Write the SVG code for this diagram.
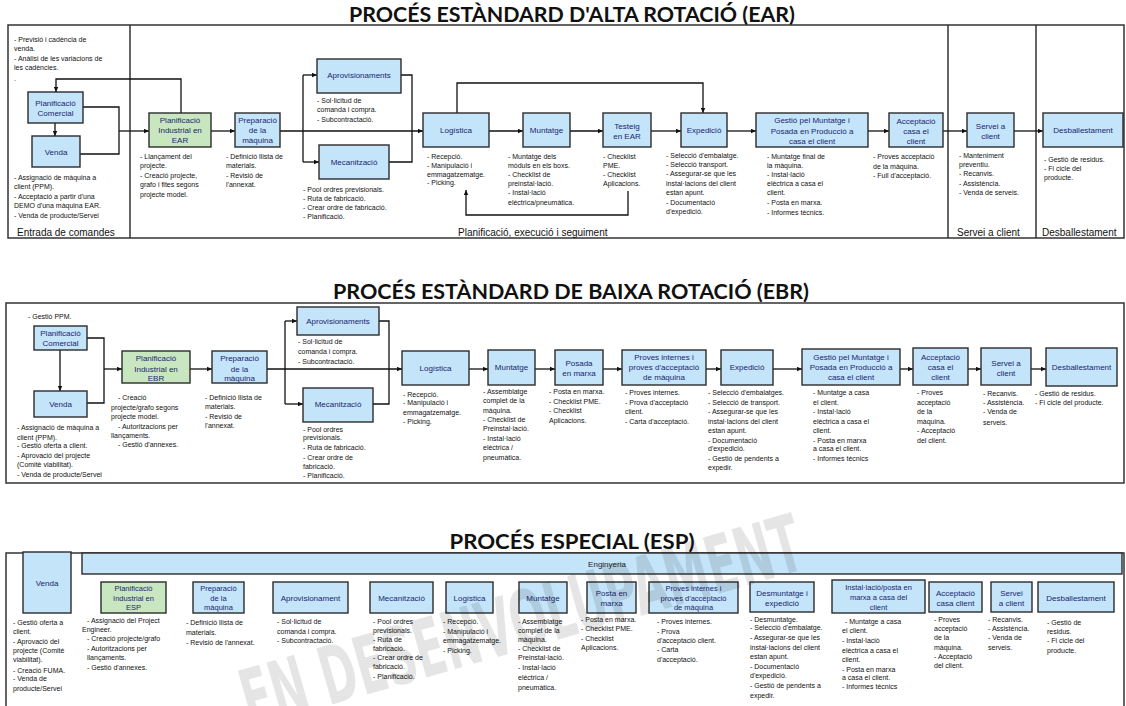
<svg xmlns="http://www.w3.org/2000/svg" width="1126" height="706" viewBox="0 0 1126 706">
<defs>
<marker id="ah" viewBox="0 0 10 10" refX="10" refY="5" markerWidth="6" markerHeight="5" orient="auto" markerUnits="userSpaceOnUse">
<path d="M0,0.5 L10,5 L0,9.5 z" fill="#111"/>
</marker>
<style>
.box{fill:#c3e4f9;stroke:#2b2b2b;stroke-width:1.4}
.green{fill:#c8e7c1}
.lbl{font-family:"Liberation Sans",Arial,sans-serif;font-size:8px;fill:#1c2470;text-anchor:middle}
.sm{font-size:7.5px}
.note{font-family:"Liberation Sans",Arial,sans-serif;font-size:7px;fill:#111}
.sec{font-family:"Liberation Sans",Arial,sans-serif;font-size:10px;fill:#111}
.title{font-family:Lato,"Liberation Sans",sans-serif;font-weight:bold;font-size:20px;fill:#111;text-anchor:middle}
.frame{fill:none;stroke:#333;stroke-width:1.5}
.conn{fill:none;stroke:#111;stroke-width:1.3}
.arr{marker-end:url(#ah)}
.wm{font-family:"DejaVu Sans",sans-serif;font-weight:bold;font-size:80px;fill:#000;fill-opacity:0.1}
</style>
</defs>
<rect width="1126" height="706" fill="#fff"/>

<!-- ===================== EAR ===================== -->
<g id="ear-frame">
<text class="title" x="572" y="22" textLength="446" lengthAdjust="spacingAndGlyphs">PROCÉS ESTÀNDARD D'ALTA ROTACIÓ (EAR)</text>
<rect class="frame" x="8" y="25" width="1116" height="213"/>
<line class="frame" x1="130" y1="25" x2="130" y2="238"/>
<line class="frame" x1="948" y1="25" x2="948" y2="238"/>
<line class="frame" x1="1036" y1="25" x2="1036" y2="238"/>
<text class="sec" x="17" y="236">Entrada de comandes</text>
<text class="sec" x="458" y="236">Planificació, execució i seguiment</text>
<text class="sec" x="957" y="236">Servei a client</text>
<text class="sec" x="1042" y="236">Desballestament</text>
<text class="note"><tspan x="14" y="42">- Previsió i cadència de</tspan><tspan x="14" y="51">venda.</tspan><tspan x="14" y="61">- Anàlisi de les variacions de</tspan><tspan x="14" y="70">les cadències.</tspan><tspan x="14" y="81">.</tspan></text>
</g>

<g id="ear-connectors">
<path class="conn arr" d="M55,123 V136"/>
<path class="conn arr" d="M181,113 V79 H56 V92"/>
<path class="conn" d="M83,107 H119 V154 H80"/>
<path class="conn arr" d="M119,131 H149"/>
<path class="conn arr" d="M211,131 H235"/>
<path class="conn arr" d="M280,131 H423"/>
<path class="conn" d="M303,75 V162"/>
<path class="conn arr" d="M303,75 H317"/>
<path class="conn arr" d="M303,162 H319"/>
<path class="conn" d="M401,75 H412 V162 H389"/>
<path class="conn arr" d="M457,113 V83 H703 V113"/>
<path class="conn arr" d="M489,131 H523"/>
<path class="conn arr" d="M570,131 H603"/>
<path class="conn arr" d="M651,131 H681"/>
<path class="conn arr" d="M727,131 H756"/>
<path class="conn arr" d="M868,131 H889"/>
<path class="conn arr" d="M943,131 H967"/>
<path class="conn arr" d="M1014,131 H1043"/>
<path class="conn arr" d="M628,191 V215 H466 V190"/>
</g>

<g id="ear-pc">
<rect class="box" x="28" y="92" width="55" height="31"/>
<text class="lbl"><tspan x="55.5" y="106">Planificació</tspan><tspan x="55.5" y="116">Comercial</tspan></text>
</g>
<g id="ear-venda">
<rect class="box" x="32" y="136" width="48" height="31"/>
<text class="lbl" x="56" y="155">Venda</text>
<text class="note"><tspan x="14" y="180">- Assignació de màquina a</tspan><tspan x="14" y="189">client (PPM).</tspan><tspan x="14" y="199">- Acceptació a partir d'una</tspan><tspan x="14" y="208">DEMO d'una màquina EAR.</tspan><tspan x="14" y="218">- Venda de producte/Servei</tspan></text>
</g>
<g id="ear-pi">
<rect class="box green" x="149" y="113" width="62" height="34"/>
<text class="lbl"><tspan x="180" y="123">Planificació</tspan><tspan x="180" y="133">Industrial en</tspan><tspan x="180" y="143">EAR</tspan></text>
<text class="note"><tspan x="140" y="159">- Llançament del</tspan><tspan x="140" y="168">projecte.</tspan><tspan x="140" y="178">- Creació projecte,</tspan><tspan x="140" y="187">grafo i fites segons</tspan><tspan x="140" y="197">projecte model.</tspan></text>
</g>
<g id="ear-prep">
<rect class="box" x="235" y="113" width="45" height="34"/>
<text class="lbl"><tspan x="257.5" y="123">Preparació</tspan><tspan x="257.5" y="133">de la</tspan><tspan x="257.5" y="143">màquina</tspan></text>
<text class="note"><tspan x="226" y="159">- Definició llista de</tspan><tspan x="226" y="168">materials.</tspan><tspan x="226" y="178">- Revisió de</tspan><tspan x="226" y="187">l'annexat.</tspan></text>
</g>
<g id="ear-aprov">
<rect class="box" x="317" y="59" width="84" height="34"/>
<text class="lbl" x="359" y="78">Aprovisionaments</text>
<text class="note"><tspan x="317" y="103">- Sol·licitud de</tspan><tspan x="317" y="112">comanda i compra.</tspan><tspan x="317" y="122">- Subcontractació.</tspan></text>
</g>
<g id="ear-mec">
<rect class="box" x="319" y="145" width="70" height="34"/>
<text class="lbl" x="354" y="165">Mecanització</text>
<text class="note"><tspan x="303" y="192">- Pool ordres previsionals.</tspan><tspan x="303" y="201">- Ruta de fabricació.</tspan><tspan x="303" y="210">- Crear ordre de fabricació.</tspan><tspan x="303" y="219">- Planificació.</tspan></text>
</g>
<g id="ear-log">
<rect class="box" x="423" y="113" width="66" height="34"/>
<text class="lbl" x="456" y="133">Logística</text>
<text class="note"><tspan x="427" y="159">- Recepció.</tspan><tspan x="427" y="168">- Manipulació i</tspan><tspan x="427" y="177">emmagatzematge.</tspan><tspan x="427" y="185">- Picking.</tspan></text>
</g>
<g id="ear-munt">
<rect class="box" x="523" y="113" width="47" height="34"/>
<text class="lbl" x="546.5" y="133">Muntatge</text>
<text class="note"><tspan x="508" y="159">- Muntatge dels</tspan><tspan x="508" y="168">mòduls en els boxs.</tspan><tspan x="508" y="177">- Checklist de</tspan><tspan x="508" y="186">preinstal·lació.</tspan><tspan x="508" y="195">- Instal·lació</tspan><tspan x="508" y="205">elèctrica/pneumàtica.</tspan></text>
</g>
<g id="ear-test">
<rect class="box" x="603" y="113" width="48" height="34"/>
<text class="lbl"><tspan x="627" y="129">Testeig</tspan><tspan x="627" y="139">en EAR</tspan></text>
<text class="note"><tspan x="603" y="159">- Checklist</tspan><tspan x="603" y="168">PME.</tspan><tspan x="603" y="177">- Checklist</tspan><tspan x="603" y="186">Aplicacions.</tspan></text>
</g>
<g id="ear-exp">
<rect class="box" x="681" y="113" width="46" height="34"/>
<text class="lbl" x="704" y="133">Expedició</text>
<text class="note"><tspan x="666" y="158">- Selecció d'embalatge.</tspan><tspan x="666" y="167">- Selecció transport.</tspan><tspan x="666" y="176">- Assegurar-se que les</tspan><tspan x="666" y="186">instal·lacions del client</tspan><tspan x="666" y="195">estan apunt.</tspan><tspan x="666" y="205">- Documentació</tspan><tspan x="666" y="214">d'expedició.</tspan></text>
</g>
<g id="ear-gest">
<rect class="box" x="756" y="113" width="112" height="34"/>
<text class="lbl"><tspan x="812" y="123">Gestió pel Muntatge i</tspan><tspan x="812" y="133.5">Posada en Producció a</tspan><tspan x="812" y="144">casa el client</tspan></text>
<text class="note"><tspan x="767" y="159">- Muntatge final de</tspan><tspan x="767" y="168">la màquina.</tspan><tspan x="767" y="177">- Instal·lació</tspan><tspan x="767" y="186">elèctrica a casa el</tspan><tspan x="767" y="195">client.</tspan><tspan x="767" y="205">- Posta en marxa.</tspan><tspan x="767" y="215">- Informes tècnics.</tspan></text>
</g>
<g id="ear-acc">
<rect class="box" x="889" y="113" width="54" height="34"/>
<text class="lbl"><tspan x="916" y="124">Acceptació</tspan><tspan x="916" y="134">casa el</tspan><tspan x="916" y="144">client</tspan></text>
<text class="note"><tspan x="873" y="159">- Proves acceptació</tspan><tspan x="873" y="169">de la màquina.</tspan><tspan x="873" y="178">- Full d'acceptació.</tspan></text>
</g>
<g id="ear-serv">
<rect class="box" x="967" y="113" width="47" height="34"/>
<text class="lbl"><tspan x="990.5" y="129">Servei a</tspan><tspan x="990.5" y="139">client</tspan></text>
<text class="note"><tspan x="959" y="158">- Manteniment</tspan><tspan x="959" y="167">preventiu.</tspan><tspan x="959" y="176">- Recanvis.</tspan><tspan x="959" y="186">- Assistència.</tspan><tspan x="959" y="195">- Venda de serveis.</tspan></text>
</g>
<g id="ear-desb">
<rect class="box" x="1043" y="113" width="80" height="34"/>
<text class="lbl" x="1083" y="133">Desballestament</text>
<text class="note"><tspan x="1044" y="162">- Gestió de residus.</tspan><tspan x="1044" y="171">- Fi cicle del</tspan><tspan x="1044" y="180">producte.</tspan></text>
</g>

<!-- ===================== EBR ===================== -->
<g id="ebr-frame">
<text class="title" x="571" y="299" textLength="476" lengthAdjust="spacingAndGlyphs">PROCÉS ESTÀNDARD DE BAIXA ROTACIÓ (EBR)</text>
<rect class="frame" x="6" y="303" width="1118" height="180"/>
<text class="note" x="28" y="319">- Gestió PPM.</text>
</g>

<g id="ebr-connectors">
<path class="conn arr" d="M60,350 V391"/>
<path class="conn" d="M87,338 H104 V403 H87"/>
<path class="conn arr" d="M104,369 H122"/>
<path class="conn arr" d="M190,369 H212"/>
<path class="conn arr" d="M267,369 H402"/>
<path class="conn" d="M285,321 V404"/>
<path class="conn arr" d="M285,321 H297"/>
<path class="conn arr" d="M285,404 H303"/>
<path class="conn" d="M379,321 H389 V404 H373"/>
<path class="conn arr" d="M469,369 H488"/>
<path class="conn arr" d="M535,369 H555"/>
<path class="conn arr" d="M603,369 H622"/>
<path class="conn arr" d="M706,369 H721"/>
<path class="conn arr" d="M773,369 H802"/>
<path class="conn arr" d="M900,369 H913"/>
<path class="conn arr" d="M968,369 H981"/>
<path class="conn arr" d="M1031,369 H1046"/>
</g>

<g id="ebr-pc">
<rect class="box" x="34" y="326" width="53" height="24"/>
<text class="lbl"><tspan x="60.5" y="336">Planificació</tspan><tspan x="60.5" y="346">Comercial</tspan></text>
</g>
<g id="ebr-venda">
<rect class="box" x="34" y="391" width="53" height="26"/>
<text class="lbl" x="60.5" y="407">Venda</text>
<text class="note"><tspan x="17" y="430">- Assignació de màquina a</tspan><tspan x="17" y="440">client (PPM).</tspan><tspan x="17" y="448">- Gestió oferta a client.</tspan><tspan x="17" y="458">- Aprovació del projecte</tspan><tspan x="17" y="467">(Comitè viabilitat).</tspan><tspan x="17" y="477">- Venda de producte/Servei</tspan></text>
</g>
<g id="ebr-pi">
<rect class="box green" x="122" y="351" width="68" height="32"/>
<text class="lbl"><tspan x="156" y="361">Planificació</tspan><tspan x="156" y="371.5">Industrial en</tspan><tspan x="156" y="381">EBR</tspan></text>
<text class="note"><tspan x="118" y="400">- Creació</tspan><tspan x="111" y="410">projecte/grafo segons</tspan><tspan x="111" y="419">projecte model.</tspan><tspan x="118" y="429">- Autoritzacions per</tspan><tspan x="111" y="438">llançaments.</tspan><tspan x="118" y="447">- Gestió d'annexes.</tspan></text>
</g>
<g id="ebr-prep">
<rect class="box" x="212" y="351" width="55" height="32"/>
<text class="lbl"><tspan x="239.5" y="361">Preparació</tspan><tspan x="239.5" y="371.5">de la</tspan><tspan x="239.5" y="381">màquina</tspan></text>
<text class="note"><tspan x="205" y="400">- Definició llista de</tspan><tspan x="205" y="409">materials.</tspan><tspan x="205" y="419">- Revisió de</tspan><tspan x="205" y="428">l'annexat.</tspan></text>
</g>
<g id="ebr-aprov">
<rect class="box" x="297" y="307" width="82" height="28"/>
<text class="lbl" x="338" y="324">Aprovisionaments</text>
<text class="note"><tspan x="298" y="344">- Sol·licitud de</tspan><tspan x="298" y="354">comanda i compra.</tspan><tspan x="298" y="364">- Subcontractació.</tspan></text>
</g>
<g id="ebr-mec">
<rect class="box" x="303" y="388" width="70" height="34"/>
<text class="lbl" x="338" y="407">Mecanització</text>
<text class="note"><tspan x="303" y="432">- Pool ordres</tspan><tspan x="303" y="440">previsionals.</tspan><tspan x="303" y="450">- Ruta de fabricació.</tspan><tspan x="303" y="460">- Crear ordre de</tspan><tspan x="303" y="469">fabricació.</tspan><tspan x="303" y="478">- Planificació.</tspan></text>
</g>
<g id="ebr-log">
<rect class="box" x="402" y="351" width="67" height="34"/>
<text class="lbl" x="435.5" y="371">Logística</text>
<text class="note"><tspan x="403" y="397">- Recepció.</tspan><tspan x="403" y="405">- Manipulació i</tspan><tspan x="403" y="415">emmagatzematge.</tspan><tspan x="403" y="424">- Picking.</tspan></text>
</g>
<g id="ebr-munt">
<rect class="box" x="488" y="350" width="47" height="35"/>
<text class="lbl" x="511.5" y="370">Muntatge</text>
<text class="note"><tspan x="483" y="394">- Assemblatge</tspan><tspan x="483" y="403">complet de la</tspan><tspan x="483" y="413">màquina.</tspan><tspan x="483" y="422">- Checklist de</tspan><tspan x="483" y="431">Preinstal·lació.</tspan><tspan x="483" y="441">- Instal·lació</tspan><tspan x="483" y="450">elèctrica /</tspan><tspan x="483" y="460">pneumàtica.</tspan></text>
</g>
<g id="ebr-posada">
<rect class="box" x="555" y="350" width="48" height="35"/>
<text class="lbl"><tspan x="579" y="366">Posada</tspan><tspan x="579" y="376">en marxa</tspan></text>
<text class="note"><tspan x="549" y="394">- Posta en marxa.</tspan><tspan x="549" y="404">- Checklist PME.</tspan><tspan x="549" y="413">- Checklist</tspan><tspan x="549" y="423">Aplicacions.</tspan></text>
</g>
<g id="ebr-proves">
<rect class="box" x="622" y="350" width="84" height="35"/>
<text class="lbl"><tspan x="664" y="360">Proves internes i</tspan><tspan x="664" y="370">proves d'acceptació</tspan><tspan x="664" y="380">de màquina</tspan></text>
<text class="note"><tspan x="625" y="395">- Proves internes.</tspan><tspan x="625" y="405">- Prova d'acceptació</tspan><tspan x="625" y="414">client.</tspan><tspan x="625" y="424">- Carta d'acceptació.</tspan></text>
</g>
<g id="ebr-exp">
<rect class="box" x="721" y="350" width="52" height="35"/>
<text class="lbl" x="747" y="370">Expedició</text>
<text class="note"><tspan x="708" y="395">- Selecció d'embalatges.</tspan><tspan x="708" y="405">- Selecció de transport.</tspan><tspan x="708" y="414">- Assegurar-se que les</tspan><tspan x="708" y="424">instal·lacions del client</tspan><tspan x="708" y="433">estan apunt.</tspan><tspan x="708" y="443">- Documentació</tspan><tspan x="708" y="451">d'expedició.</tspan><tspan x="708" y="461">- Gestió de pendents a</tspan><tspan x="708" y="470">expedir.</tspan></text>
</g>
<g id="ebr-gest">
<rect class="box" x="802" y="349" width="98" height="36"/>
<text class="lbl"><tspan x="851" y="360">Gestió pel Muntatge i</tspan><tspan x="851" y="370">Posada en Producció a</tspan><tspan x="851" y="380">casa el client</tspan></text>
<text class="note"><tspan x="813" y="395">- Muntatge a casa</tspan><tspan x="813" y="405">el client.</tspan><tspan x="813" y="414">- Instal·lació</tspan><tspan x="813" y="424">elèctrica a casa el</tspan><tspan x="813" y="433">client.</tspan><tspan x="813" y="443">- Posta en marxa</tspan><tspan x="813" y="451">a casa el client.</tspan><tspan x="813" y="461">- Informes tècnics</tspan></text>
</g>
<g id="ebr-acc">
<rect class="box" x="913" y="348" width="55" height="37"/>
<text class="lbl"><tspan x="940.5" y="360">Acceptació</tspan><tspan x="940.5" y="370">casa el</tspan><tspan x="940.5" y="380">client</tspan></text>
<text class="note"><tspan x="917" y="395">- Proves</tspan><tspan x="917" y="405">acceptació</tspan><tspan x="917" y="414">de la</tspan><tspan x="917" y="424">màquina.</tspan><tspan x="917" y="433">- Acceptació</tspan><tspan x="917" y="443">del client.</tspan></text>
</g>
<g id="ebr-serv">
<rect class="box" x="981" y="348" width="50" height="37"/>
<text class="lbl"><tspan x="1006" y="366">Servei a</tspan><tspan x="1006" y="376">client</tspan></text>
<text class="note"><tspan x="983" y="396">- Recanvis.</tspan><tspan x="983" y="405">- Assistència.</tspan><tspan x="983" y="414">- Venda de</tspan><tspan x="983" y="425">serveis.</tspan></text>
</g>
<g id="ebr-desb">
<rect class="box" x="1046" y="348" width="71" height="38"/>
<text class="lbl" x="1081.5" y="370">Desballestament</text>
<text class="note"><tspan x="1035" y="396">- Gestió de residus.</tspan><tspan x="1035" y="405">- Fi cicle del producte.</tspan></text>
</g>

<!-- ===================== ESP ===================== -->
<g id="esp-frame">
<text class="title" x="572" y="549" textLength="245" lengthAdjust="spacingAndGlyphs">PROCÉS ESPECIAL (ESP)</text>
<rect class="frame" x="6" y="553" width="1118" height="160"/>
</g>
<g id="esp-eng">
<rect class="box" x="82" y="553" width="1040" height="21"/>
<text class="lbl" x="607" y="567" style="fill:#222">Enginyeria</text>
</g>
<g id="esp-venda">
<rect class="box" x="23" y="552" width="48" height="61"/>
<text class="lbl" x="47" y="586">Venda</text>
<text class="note"><tspan x="13" y="625">- Gestió oferta a</tspan><tspan x="13" y="634">client.</tspan><tspan x="13" y="644">- Aprovació del</tspan><tspan x="13" y="653">projecte (Comitè</tspan><tspan x="13" y="662">viabilitat).</tspan><tspan x="13" y="673">- Creació FUMA.</tspan><tspan x="13" y="681">- Venda de</tspan><tspan x="13" y="691">producte/Servei</tspan></text>
</g>
<g id="esp-pi">
<rect class="box green" x="101" y="582" width="65" height="31"/>
<text class="lbl sm"><tspan x="133.5" y="591">Planificació</tspan><tspan x="133.5" y="600.5">Industrial en</tspan><tspan x="133.5" y="610">ESP</tspan></text>
<text class="note"><tspan x="87" y="623">- Assignació del Project</tspan><tspan x="82" y="632">Engineer.</tspan><tspan x="87" y="641">- Creació projecte/grafo</tspan><tspan x="87" y="651">- Autoritzacions per</tspan><tspan x="87" y="660">llançaments.</tspan><tspan x="87" y="670">- Gestió d'annexes.</tspan></text>
</g>
<g id="esp-prep">
<rect class="box" x="193" y="582" width="51" height="31"/>
<text class="lbl sm"><tspan x="218.5" y="591">Preparació</tspan><tspan x="218.5" y="600.5">de la</tspan><tspan x="218.5" y="610">màquina</tspan></text>
<text class="note"><tspan x="186" y="625">- Definició llista de</tspan><tspan x="186" y="635">materials.</tspan><tspan x="186" y="645">- Revisió de l'annexat.</tspan></text>
</g>
<g id="esp-aprov">
<rect class="box" x="273" y="582" width="75" height="31"/>
<text class="lbl" x="310.5" y="600.5">Aprovisionament</text>
<text class="note"><tspan x="277" y="624">- Sol·licitud de</tspan><tspan x="277" y="634">comanda i compra.</tspan><tspan x="277" y="643">- Subcontractació.</tspan></text>
</g>
<g id="esp-mec">
<rect class="box" x="370" y="582" width="63" height="31"/>
<text class="lbl" x="401.5" y="600.5">Mecanització</text>
<text class="note"><tspan x="373" y="624">- Pool ordres</tspan><tspan x="373" y="633">previsionals.</tspan><tspan x="373" y="642">- Ruta de</tspan><tspan x="373" y="651">fabricació.</tspan><tspan x="373" y="660">- Crear ordre de</tspan><tspan x="373" y="669">fabricació.</tspan><tspan x="373" y="679">- Planificació.</tspan></text>
</g>
<g id="esp-log">
<rect class="box" x="446" y="582" width="47" height="31"/>
<text class="lbl" x="469.5" y="600.5">Logística</text>
<text class="note"><tspan x="443" y="624">- Recepció.</tspan><tspan x="443" y="634">- Manipulació i</tspan><tspan x="443" y="643">emmagatzematge.</tspan><tspan x="443" y="653">- Picking.</tspan></text>
</g>
<g id="esp-munt">
<rect class="box" x="519" y="582" width="48" height="31"/>
<text class="lbl" x="543" y="600.5">Muntatge</text>
<text class="note"><tspan x="518" y="624">- Assemblatge</tspan><tspan x="518" y="633">complet de la</tspan><tspan x="518" y="642">màquina.</tspan><tspan x="518" y="651">- Checklist de</tspan><tspan x="518" y="660">Preinstal·lació.</tspan><tspan x="518" y="670">- Instal·lació</tspan><tspan x="518" y="680">elèctrica /</tspan><tspan x="518" y="690">pneumàtica.</tspan></text>
</g>
<g id="esp-posta">
<rect class="box" x="587" y="582" width="49" height="31"/>
<text class="lbl"><tspan x="611.5" y="596">Posta en</tspan><tspan x="611.5" y="606">marxa</tspan></text>
<text class="note"><tspan x="581" y="622">- Posta en marxa.</tspan><tspan x="581" y="631">- Checklist PME.</tspan><tspan x="581" y="641">- Checklist</tspan><tspan x="581" y="650">Aplicacions.</tspan></text>
</g>
<g id="esp-proves">
<rect class="box" x="649" y="582" width="89" height="31"/>
<text class="lbl sm"><tspan x="693.5" y="591">Proves internes i</tspan><tspan x="693.5" y="600.5">proves d'acceptació</tspan><tspan x="693.5" y="610">de màquina</tspan></text>
<text class="note"><tspan x="657" y="624">- Proves internes.</tspan><tspan x="657" y="634">- Prova</tspan><tspan x="657" y="643">d'acceptació client.</tspan><tspan x="657" y="652">- Carta</tspan><tspan x="657" y="662">d'acceptació.</tspan></text>
</g>
<g id="esp-desm">
<rect class="box" x="750" y="582" width="64" height="30"/>
<text class="lbl"><tspan x="782" y="596">Desmuntatge i</tspan><tspan x="782" y="606">expedició</tspan></text>
<text class="note"><tspan x="750" y="622">- Desmuntatge.</tspan><tspan x="750" y="630">- Selecció d'embalatge.</tspan><tspan x="750" y="640">- Assegurar-se que les</tspan><tspan x="750" y="650">instal·lacions del client</tspan><tspan x="750" y="659">estan apunt.</tspan><tspan x="750" y="669">- Documentació</tspan><tspan x="750" y="678">d'expedició.</tspan><tspan x="750" y="688">- Gestió de pendents a</tspan><tspan x="750" y="698">expedir.</tspan></text>
</g>
<g id="esp-inst">
<rect class="box" x="832" y="580" width="93" height="33"/>
<text class="lbl sm"><tspan x="878.5" y="590">Instal·lació/posta en</tspan><tspan x="878.5" y="600">marxa a casa del</tspan><tspan x="878.5" y="610">client</tspan></text>
<text class="note"><tspan x="845" y="624">- Muntatge a casa</tspan><tspan x="842" y="633">el client.</tspan><tspan x="842" y="643">- Instal·lació</tspan><tspan x="842" y="653">elèctrica a casa el</tspan><tspan x="842" y="662">client.</tspan><tspan x="842" y="672">- Posta en marxa</tspan><tspan x="842" y="680">a casa el client.</tspan><tspan x="842" y="689">- Informes tècnics</tspan></text>
</g>
<g id="esp-acc">
<rect class="box" x="929" y="582" width="53" height="30"/>
<text class="lbl"><tspan x="955.5" y="596">Acceptació</tspan><tspan x="955.5" y="606">casa client</tspan></text>
<text class="note"><tspan x="934" y="622">- Proves</tspan><tspan x="934" y="631">acceptació</tspan><tspan x="934" y="640">de la</tspan><tspan x="934" y="650">màquina.</tspan><tspan x="934" y="659">- Acceptació</tspan><tspan x="934" y="668">del client.</tspan></text>
</g>
<g id="esp-serv">
<rect class="box" x="991" y="582" width="41" height="30"/>
<text class="lbl"><tspan x="1011.5" y="596">Servei</tspan><tspan x="1011.5" y="606">a client</tspan></text>
<text class="note"><tspan x="988" y="622">- Recanvis.</tspan><tspan x="988" y="631">- Assistència.</tspan><tspan x="988" y="640">- Venda de</tspan><tspan x="988" y="650">serveis.</tspan></text>
</g>
<g id="esp-desb">
<rect class="box" x="1038" y="582" width="76" height="30"/>
<text class="lbl" x="1076" y="600.5">Desballestament</text>
<text class="note"><tspan x="1047" y="625">- Gestió de</tspan><tspan x="1047" y="634">residus.</tspan><tspan x="1047" y="643">- Fi cicle del</tspan><tspan x="1047" y="653">producte.</tspan></text>
</g>

<text class="wm" transform="translate(250,728) rotate(-16)" textLength="580" lengthAdjust="spacingAndGlyphs">EN DESENVOLUPAMENT</text>
</svg>
